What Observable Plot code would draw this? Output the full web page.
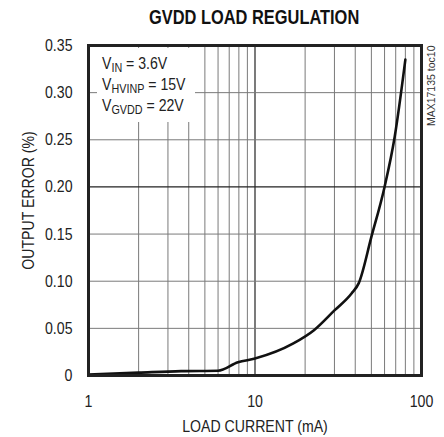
<!DOCTYPE html>
<html><head><meta charset="utf-8">
<script src="https://cdn.jsdelivr.net/npm/d3@7"></script>
<script src="https://cdn.jsdelivr.net/npm/@observablehq/plot@0.6"></script>
<style>
body{margin:0;background:#fff;font-family:"Liberation Sans Narrow","Liberation Sans",Arial,sans-serif;}
#title{height:34px;line-height:34px;font-weight:bold;font-size:20px;text-align:center;padding-left:88px;padding-right:23px;color:#111;}
#title span{display:inline-block;transform:scaleX(0.82);transform-origin:center;}
#chart svg{display:block;}
</style></head><body>
<div id="title"><span>GVDD LOAD REGULATION</span></div>
<div id="chart"></div>
<script>
const loadCurrent = [1, 2, 3.6, 6, 7.9, 10, 17, 22.6, 30, 38, 42, 50, 60, 69, 80];
const outputError = [0.001, 0.003, 0.0046, 0.005, 0.014, 0.018, 0.034, 0.048, 0.069, 0.087, 0.098, 0.147, 0.2, 0.253, 0.335];
const xTicks = [1, 10, 100];
const xTickLabels = ["1", "10", "100"];
const yTicks = [0, 0.05, 0.10, 0.15, 0.20, 0.25, 0.30, 0.35];
const yTickLabels = ["0", "0.05", "0.10", "0.15", "0.20", "0.25", "0.30", "0.35"];
const xGrid = [2, 3, 4, 5, 6, 7, 8, 9, 20, 30, 40, 50, 60, 70, 80, 90];
const xGridMajor = [10];
const yGrid = [0.05, 0.10, 0.15, 0.25, 0.30];
const yGridMajor = [0.20];
const xLabel = "LOAD CURRENT (mA)";
const yLabel = "OUTPUT ERROR (%)";
const docId = "MAX17135 toc10";
const legendNames = ["V", "V", "V"];
const legendSubs = ["IN", "HVINP", "GVDD"];
const legendValues = [" = 3.6V", " = 15V", " = 22V"];

const FONT = '"Liberation Sans Narrow","Liberation Sans",Arial,sans-serif';
const SQUEEZE = 0.83;
const data = loadCurrent.map((x, i) => ({x, y: outputError[i]}));

const plot = Plot.plot({
  width: 444, height: 403,
  marginTop: 11, marginBottom: 62, marginLeft: 88, marginRight: 23,
  style: {fontFamily: FONT, fontSize: "17px", color: "#222", background: "#fff"},
  x: {type: "log", domain: [1, 100]},
  y: {domain: [0, 0.35]},
  marks: [
    Plot.ruleX(xGrid, {stroke: "#7a7a7a", strokeWidth: 1}),
    Plot.ruleX(xGridMajor, {stroke: "#222", strokeWidth: 1.2}),
    Plot.ruleY(yGrid, {stroke: "#7a7a7a", strokeWidth: 1}),
    Plot.ruleY(yGridMajor, {stroke: "#222", strokeWidth: 1.2}),
    Plot.axisX(xTicks, {tickSize: 0, tickPadding: 19, label: null, fill: "#222",
      tickFormat: d => xTickLabels[xTicks.indexOf(d)]}),
    Plot.axisY(yTicks, {tickSize: 0, tickPadding: 16, label: null, fill: "#222",
      tickFormat: d => yTickLabels[yTicks.indexOf(d)]}),
    Plot.line(data, {x: "x", y: "y", curve: "monotone-x", stroke: "#111", strokeWidth: 2.6}),
    Plot.frame({stroke: "#222", strokeWidth: 3}),
    Plot.text([xLabel], {frameAnchor: "bottom", textAnchor: "middle", lineAnchor: "top", dy: 44, fill: "#222"}),
    Plot.text([yLabel], {frameAnchor: "left", textAnchor: "middle", lineAnchor: "middle", rotate: -90, dx: -60, dy: -10, fill: "#222"}),
    Plot.text([docId], {frameAnchor: "top-right", textAnchor: "end", lineAnchor: "middle", rotate: -90, dx: 10, fontSize: 10.5, fill: "#333", className: "docid"})
  ]
});
document.getElementById("chart").appendChild(plot);

const svg = d3.select(plot);

// condense Plot texts to mimic the narrow face of the reference
svg.selectAll("text").each(function() {
  if (this.closest(".docid")) return;
  const len = this.getComputedTextLength();
  if (len > 0) {
    this.setAttribute("textLength", (len * SQUEEZE).toFixed(1));
    this.setAttribute("lengthAdjust", "spacingAndGlyphs");
  }
});

// legend box with subscripts
const g = svg.append("g").attr("font-family", FONT).attr("fill", "#222").attr("text-anchor", "start");
g.append("rect").attr("x", 97).attr("y", 14).attr("width", 98).attr("height", 74).attr("fill", "#fff");
legendNames.forEach((n, i) => {
  const t = g.append("text")
    .attr("transform", `translate(102,${35 + i * 21}) scale(${SQUEEZE},1)`)
    .attr("font-size", 17);
  t.append("tspan").text(n);
  t.append("tspan").attr("font-size", 13).attr("dy", 3).text(legendSubs[i]);
  t.append("tspan").attr("dy", -3).text(legendValues[i]);
});
</script>
</body></html>
